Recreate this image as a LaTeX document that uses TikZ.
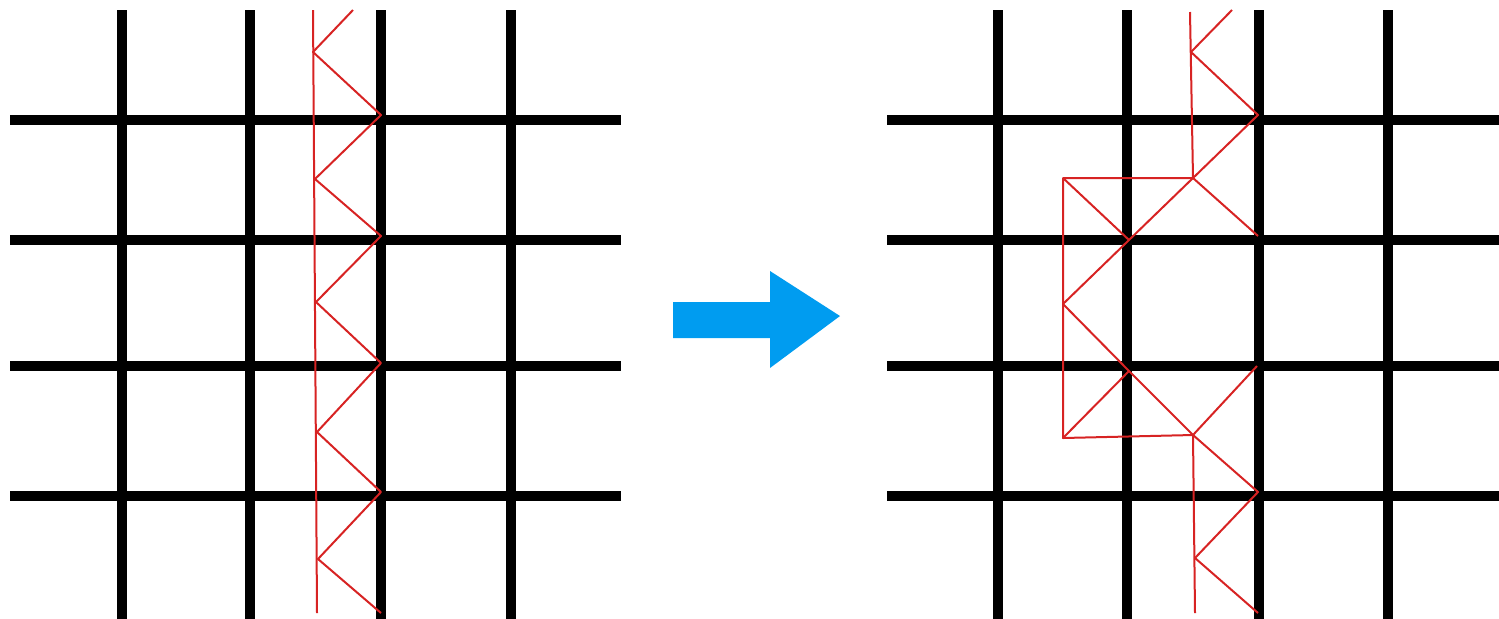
\documentclass[tikz,border=0pt]{standalone}
\definecolor{trussred}{RGB}{215,35,35}
\definecolor{arrowblue}{RGB}{0,156,240}
\begin{document}
\begin{tikzpicture}[x=0.5pt,y=-0.5pt,
  gridline/.style={line width=5pt,black},
  truss/.style={line width=1pt,draw=trussred,line join=round},
  bigarrow/.style={fill=arrowblue,draw=none}]
\useasboundingbox (0,0) rectangle (1499,618);
% left grid
\foreach \x in {122,250,381,511} \draw[gridline] (\x,10) -- (\x,622);
\foreach \y in {120,240,366,496} \draw[gridline] (10,\y) -- (621,\y);
% right grid
\foreach \x in {998,1127,1259,1388} \draw[gridline] (\x,10) -- (\x,622);
\foreach \y in {120,240,366,496} \draw[gridline] (887,\y) -- (1505,\y);
% left truss
\coordinate (lt) at (313,10);
\coordinate (lb) at (317,613);
\draw[truss] (lt) -- (lb);
\draw[truss] (353,10) -- (313,52) -- (381,115) -- (315,179) -- (381,236) -- (316,302)
  -- (381,363) -- (317,432) -- (381,492) -- (318,559) -- (381,613);
% right truss
\coordinate (a) at (1190,12);
\coordinate (b) at (1193,178);
\coordinate (c) at (1063,178);
\coordinate (d) at (1063,438);
\coordinate (e) at (1193,435);
\coordinate (f) at (1195,613);
\coordinate (g) at (1129,240);
\coordinate (h) at (1063,304);
\coordinate (i) at (1129,371);
\draw[truss] (a) -- (b) -- (c) -- (d) -- (e) -- (f);
\draw[truss] (1232,10) -- (1191,52) -- (1258,115) -- (b) -- (1258,236);
\draw[truss] (c) -- (g);
\draw[truss] (b) -- (g) -- (h) -- (i) -- (e) -- (1258,492) -- (1195,558) -- (1258,613);
\draw[truss] (i) -- (d);
\draw[truss] (e) -- (1257,366);
% arrow
\fill[bigarrow] (673,302) -- (770,302) -- (770,271) -- (840,316) -- (770,368) -- (770,338) -- (673,338) -- cycle;
\end{tikzpicture}
\end{document}
